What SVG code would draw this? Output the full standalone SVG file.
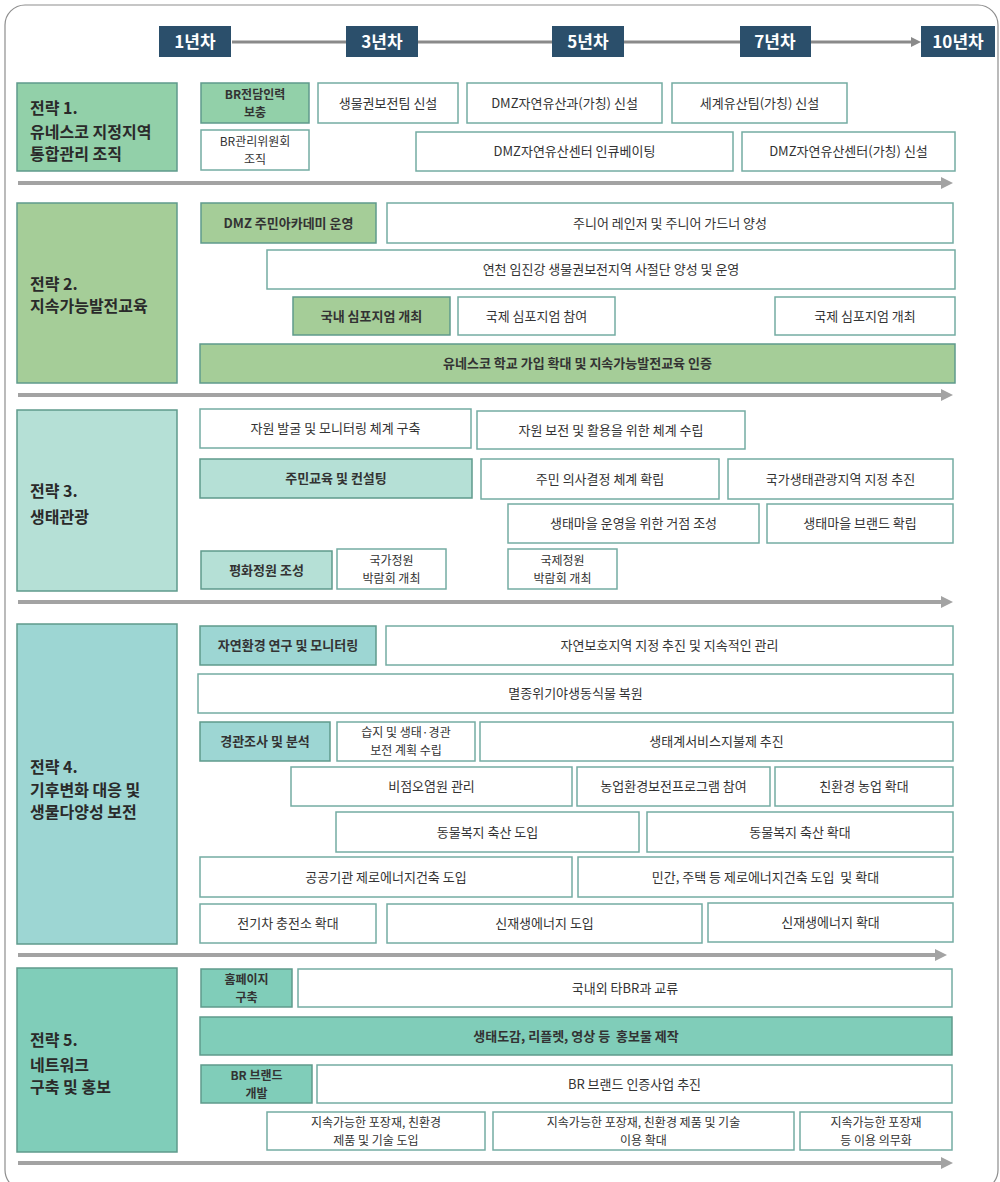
<svg xmlns="http://www.w3.org/2000/svg" width="1000" height="1182" viewBox="0 0 1000 1182">
<defs>
<marker id="ah" markerUnits="userSpaceOnUse" markerWidth="12" markerHeight="12" refX="0" refY="6" orient="auto">
<path d="M0,0 L12,6 L0,12 z" fill="#a3a3a3"/>
</marker>
<marker id="ahh" markerUnits="userSpaceOnUse" markerWidth="10" markerHeight="10" refX="0" refY="5" orient="auto">
<path d="M0,0 L10,5 L0,10 z" fill="#8a8a8a"/>
</marker>
<style>
text{font-family:"Noto Sans CJK KR","Noto Sans",sans-serif;fill:#333}
.t{font-size:13px;text-anchor:middle}
.t2{font-size:12px;text-anchor:middle}
.b{font-weight:bold}
.w{fill:#fff;stroke:#74aca3;stroke-width:1.5}
.f{stroke:#5f9a8c;stroke-width:1.5}
.s1{fill:#92d0a9}.s2{fill:#a5cd98}.s3{fill:#b5e0d6}.s4{fill:#9dd6d3}.s5{fill:#80cdb9}
.lab{font-size:16px;font-weight:bold;fill:#2a2a2a}
.yr{fill:#2b4f6b}
.yt{font-size:17px;font-weight:bold;fill:#fff;text-anchor:middle}
.ar{stroke:#a3a3a3;stroke-width:4;fill:none}
</style>
</defs>
<rect x="5" y="5" width="993" height="1185" rx="20" fill="#fff" stroke="#8e8e8e" stroke-width="1.2"/>

<g id="connectors">
<line x1="232" y1="42" x2="911" y2="42" stroke="#8a8a8a" stroke-width="3" marker-end="url(#ahh)"/>
<line class="ar" x1="18" y1="183" x2="941" y2="183" marker-end="url(#ah)"/>
<line class="ar" x1="18" y1="395" x2="941" y2="395" marker-end="url(#ah)"/>
<line class="ar" x1="18" y1="602" x2="941" y2="602" marker-end="url(#ah)"/>
<line class="ar" x1="18" y1="955" x2="935" y2="955" marker-end="url(#ah)"/>
<line class="ar" x1="18" y1="1163" x2="941" y2="1163" marker-end="url(#ah)"/>
</g>

<g id="y1"><rect class="yr" x="159" y="26" width="72" height="31"/><text class="yt" x="195" y="48">1년차</text></g>
<g id="y3"><rect class="yr" x="346" y="26" width="72" height="31"/><text class="yt" x="382" y="48">3년차</text></g>
<g id="y5"><rect class="yr" x="552" y="26" width="72" height="31"/><text class="yt" x="588" y="48">5년차</text></g>
<g id="y7"><rect class="yr" x="740" y="26" width="71" height="31"/><text class="yt" x="775" y="48">7년차</text></g>
<g id="y10"><rect class="yr" x="921" y="26" width="74" height="31"/><text class="yt" x="958" y="48">10년차</text></g>

<!-- Strategy 1 -->
<g id="s1"><rect class="s1 f" x="17" y="83" width="160" height="88"/>
<text class="lab" x="30" y="114">전략 1.</text><text class="lab" x="30" y="138">유네스코 지정지역</text><text class="lab" x="30" y="160">통합관리 조직</text></g>
<g id="n1a"><rect class="s1 f" x="201" y="83" width="108" height="40"/><text class="t2 b" x="255" y="98.5">BR전담인력</text><text class="t2 b" x="255" y="116.5">보충</text></g>
<g id="n1b"><rect class="w" x="201" y="130" width="108" height="40"/><text class="t2" x="255" y="145.5">BR관리위원회</text><text class="t2" x="255" y="163.5">조직</text></g>
<g id="n1c"><rect class="w" x="318" y="83" width="140" height="40"/><text class="t" x="388" y="107.5">생물권보전팀 신설</text></g>
<g id="n1d"><rect class="w" x="467" y="83" width="195" height="40"/><text class="t" x="564.5" y="107.5">DMZ자연유산과(가칭) 신설</text></g>
<g id="n1e"><rect class="w" x="672" y="83" width="175" height="40"/><text class="t" x="759.5" y="107.5">세계유산팀(가칭) 신설</text></g>
<g id="n1f"><rect class="w" x="416" y="132" width="317" height="39"/><text class="t" x="574.5" y="156">DMZ자연유산센터 인큐베이팅</text></g>
<g id="n1g"><rect class="w" x="742" y="132" width="213" height="39"/><text class="t" x="848.5" y="156">DMZ자연유산센터(가칭) 신설</text></g>

<!-- Strategy 2 -->
<g id="s2"><rect class="s2 f" x="17" y="203" width="160" height="180"/>
<text class="lab" x="30" y="290">전략 2.</text><text class="lab" x="30" y="312">지속가능발전교육</text></g>
<g id="n2a"><rect class="s2 f" x="201" y="203" width="175" height="40"/><text class="t b" x="288.5" y="227.5">DMZ 주민아카데미 운영</text></g>
<g id="n2b"><rect class="w" x="387" y="203" width="566" height="40"/><text class="t" x="670" y="227.5">주니어 레인저 및 주니어 가드너 양성</text></g>
<g id="n2c"><rect class="w" x="267" y="250" width="688" height="39"/><text class="t" x="611" y="274">연천 임진강 생물권보전지역 사절단 양성 및 운영</text></g>
<g id="n2d"><rect class="s2 f" x="293" y="297" width="157" height="38"/><text class="t b" x="371.5" y="320.5">국내 심포지엄 개최</text></g>
<g id="n2e"><rect class="w" x="458" y="297" width="157" height="38"/><text class="t" x="536.5" y="320.5">국제 심포지엄 참여</text></g>
<g id="n2f"><rect class="w" x="775" y="297" width="180" height="38"/><text class="t" x="865" y="320.5">국제 심포지엄 개최</text></g>
<g id="n2g"><rect class="s2 f" x="200" y="344" width="755" height="39"/><text class="t b" x="577.5" y="368">유네스코 학교 가입 확대 및 지속가능발전교육 인증</text></g>

<!-- Strategy 3 -->
<g id="s3"><rect class="s3 f" x="17" y="410" width="160" height="181"/>
<text class="lab" x="30" y="497">전략 3.</text><text class="lab" x="30" y="523">생태관광</text></g>
<g id="n3a"><rect class="w" x="200" y="409" width="271" height="39"/><text class="t" x="335.5" y="433">자원 발굴 및 모니터링 체계 구축</text></g>
<g id="n3b"><rect class="w" x="477" y="411" width="268" height="38"/><text class="t" x="611" y="434.5">자원 보전 및 활용을 위한 체계 수립</text></g>
<g id="n3c"><rect class="s3 f" x="200" y="459" width="272" height="39"/><text class="t b" x="336" y="483">주민교육 및 컨설팅</text></g>
<g id="n3d"><rect class="w" x="481" y="459" width="238" height="40"/><text class="t" x="600" y="483.5">주민 의사결정 체계 확립</text></g>
<g id="n3e"><rect class="w" x="728" y="459" width="225" height="40"/><text class="t" x="840.5" y="483.5">국가생태관광지역 지정 추진</text></g>
<g id="n3f"><rect class="w" x="508" y="504" width="251" height="39"/><text class="t" x="633.5" y="528">생태마을 운영을 위한 거점 조성</text></g>
<g id="n3g"><rect class="w" x="767" y="504" width="186" height="39"/><text class="t" x="860" y="528">생태마을 브랜드 확립</text></g>
<g id="n3h"><rect class="s3 f" x="201" y="551" width="131" height="38"/><text class="t b" x="266.5" y="574.5">평화정원 조성</text></g>
<g id="n3i"><rect class="w" x="337" y="549" width="109" height="40"/><text class="t2" x="391.5" y="564.5">국가정원</text><text class="t2" x="391.5" y="582.5">박람회 개최</text></g>
<g id="n3j"><rect class="w" x="508" y="549" width="109" height="40"/><text class="t2" x="562.5" y="564.5">국제정원</text><text class="t2" x="562.5" y="582.5">박람회 개최</text></g>

<!-- Strategy 4 -->
<g id="s4"><rect class="s4 f" x="17" y="624" width="160" height="320"/>
<text class="lab" x="30" y="773">전략 4.</text><text class="lab" x="30" y="796">기후변화 대응 및</text><text class="lab" x="30" y="818">생물다양성 보전</text></g>
<g id="n4a"><rect class="s4 f" x="200" y="626" width="176" height="39"/><text class="t b" x="288" y="650">자연환경 연구 및 모니터링</text></g>
<g id="n4b"><rect class="w" x="386" y="626" width="567" height="39"/><text class="t" x="669.5" y="650">자연보호지역 지정 추진 및 지속적인 관리</text></g>
<g id="n4c"><rect class="w" x="198" y="674" width="755" height="39"/><text class="t" x="575.5" y="698">멸종위기야생동식물 복원</text></g>
<g id="n4d"><rect class="s4 f" x="200" y="722" width="130" height="39"/><text class="t b" x="265" y="746">경관조사 및 분석</text></g>
<g id="n4e"><rect class="w" x="337" y="722" width="138" height="39"/><text class="t2" x="406" y="737">습지 및 생태·경관</text><text class="t2" x="406" y="755">보전 계획 수립</text></g>
<g id="n4f"><rect class="w" x="480" y="722" width="473" height="39"/><text class="t" x="716.5" y="746">생태계서비스지불제 추진</text></g>
<g id="n4g"><rect class="w" x="291" y="767" width="281" height="39"/><text class="t" x="431.5" y="791">비점오염원 관리</text></g>
<g id="n4h"><rect class="w" x="577" y="767" width="193" height="39"/><text class="t" x="673.5" y="791">농업환경보전프로그램 참여</text></g>
<g id="n4i"><rect class="w" x="775" y="767" width="178" height="39"/><text class="t" x="864" y="791">친환경 농업 확대</text></g>
<g id="n4j"><rect class="w" x="336" y="812" width="303" height="40"/><text class="t" x="487.5" y="836.5">동물복지 축산 도입</text></g>
<g id="n4k"><rect class="w" x="647" y="812" width="306" height="40"/><text class="t" x="800" y="836.5">동물복지 축산 확대</text></g>
<g id="n4l"><rect class="w" x="200" y="857" width="372" height="40"/><text class="t" x="386" y="881.5">공공기관 제로에너지건축 도입</text></g>
<g id="n4m"><rect class="w" x="578" y="857" width="375" height="40"/><text class="t" x="765.5" y="881.5" xml:space="preserve">민간, 주택 등 제로에너지건축 도입  및 확대</text></g>
<g id="n4n"><rect class="w" x="200" y="904" width="176" height="39"/><text class="t" x="288" y="928">전기차 충전소 확대</text></g>
<g id="n4o"><rect class="w" x="387" y="904" width="315" height="39"/><text class="t" x="544.5" y="928">신재생에너지 도입</text></g>
<g id="n4p"><rect class="w" x="708" y="903" width="245" height="39"/><text class="t" x="830.5" y="927">신재생에너지 확대</text></g>

<!-- Strategy 5 -->
<g id="s5"><rect class="s5 f" x="17" y="968" width="160" height="184"/>
<text class="lab" x="30" y="1046">전략 5.</text><text class="lab" x="30" y="1071">네트워크</text><text class="lab" x="30" y="1093">구축 및 홍보</text></g>
<g id="n5a"><rect class="s5 f" x="201" y="969" width="91" height="38"/><text class="t2 b" x="246.5" y="983.5">홈페이지</text><text class="t2 b" x="246.5" y="1001.5">구축</text></g>
<g id="n5b"><rect class="w" x="298" y="969" width="654" height="38"/><text class="t" x="625" y="992.5">국내외 타BR과 교류</text></g>
<g id="n5c"><rect class="s5 f" x="200" y="1017" width="752" height="38"/><text class="t b" x="576" y="1040.5" xml:space="preserve">생태도감, 리플렛, 영상 등  홍보물 제작</text></g>
<g id="n5d"><rect class="s5 f" x="201" y="1065" width="111" height="38"/><text class="t2 b" x="256.5" y="1079.5">BR 브랜드</text><text class="t2 b" x="256.5" y="1097.5">개발</text></g>
<g id="n5e"><rect class="w" x="317" y="1065" width="635" height="38"/><text class="t" x="634.5" y="1088.5">BR 브랜드 인증사업 추진</text></g>
<g id="n5f"><rect class="w" x="267" y="1112" width="218" height="38"/><text class="t2" x="376" y="1126.5">지속가능한 포장재, 친환경</text><text class="t2" x="376" y="1144.5">제품 및 기술 도입</text></g>
<g id="n5g"><rect class="w" x="493" y="1112" width="301" height="38"/><text class="t2" x="643.5" y="1126.5">지속가능한 포장재, 친환경 제품 및 기술</text><text class="t2" x="643.5" y="1144.5">이용 확대</text></g>
<g id="n5h"><rect class="w" x="800" y="1112" width="152" height="38"/><text class="t2" x="876" y="1126.5">지속가능한 포장재</text><text class="t2" x="876" y="1144.5">등 이용 의무화</text></g>
</svg>
